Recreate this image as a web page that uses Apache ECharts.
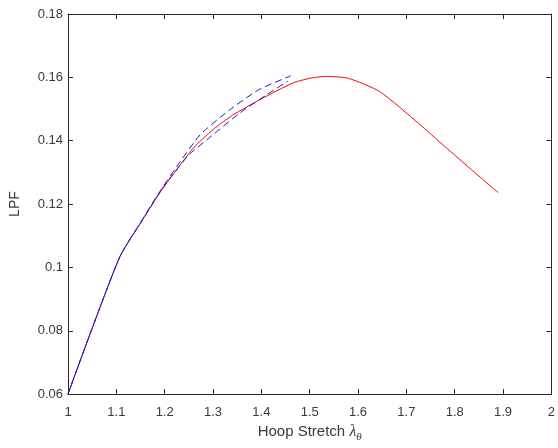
<!DOCTYPE html>
<html>
<head>
<meta charset="utf-8">
<script src="https://cdn.jsdelivr.net/npm/echarts@6/dist/echarts.min.js"></script>
<style>
html,body{margin:0;padding:0;background:#fff;}
#c{width:558px;height:448px;}
</style>
</head>
<body>
<div id="c"></div>
<script>
// Data
const xTicks = [1, 1.1, 1.2, 1.3, 1.4, 1.5, 1.6, 1.7, 1.8, 1.9, 2];
const yTicks = [0.06, 0.08, 0.1, 0.12, 0.14, 0.16, 0.18];

const redX = [1.0, 1.05, 1.108, 1.15, 1.19, 1.21, 1.26, 1.30, 1.34, 1.40, 1.465, 1.50, 1.533, 1.58, 1.645, 1.725, 1.78, 1.835, 1.89];
const redY = [0.060, 0.0808, 0.1036, 0.1140, 0.1236, 0.1278, 0.1378, 0.1435, 0.1480, 0.1532, 0.1582, 0.1597, 0.1603, 0.1597, 0.1555, 0.1455, 0.1381, 0.1308, 0.1236];

const blueAX = [1.0, 1.05, 1.108, 1.15, 1.19, 1.225, 1.273, 1.334, 1.396, 1.461];
const blueAY = [0.060, 0.0808, 0.1036, 0.1142, 0.1240, 0.1318, 0.1418, 0.1497, 0.1562, 0.1605];

const blueBX = [1.0, 1.05, 1.108, 1.15, 1.19, 1.21, 1.25, 1.293, 1.355, 1.41, 1.455];
const blueBY = [0.060, 0.0808, 0.1036, 0.1140, 0.1237, 0.1280, 0.1355, 0.1410, 0.1487, 0.1544, 0.1588];

const pairs = (xs, ys) => xs.map((x, i) => [x, ys[i]]);

const TXT = '#3a3a3a';
const AX = '#262626';
const FONT = '"Liberation Sans", Arial, sans-serif';
const fmt = v => String(+(+v).toFixed(2));

const chart = echarts.init(document.getElementById('c'), null, {renderer: 'canvas'});

const baseX = {
  type: 'value', min: xTicks[0], max: xTicks[xTicks.length - 1], interval: 0.1,
  axisLine: {show: true, onZero: false, lineStyle: {color: AX, width: 1}},
  axisTick: {show: true, inside: true, length: 5, lineStyle: {color: AX}},
  splitLine: {show: false}
};
const baseY = {
  type: 'value', min: yTicks[0], max: yTicks[yTicks.length - 1], interval: 0.02,
  axisLine: {show: true, onZero: false, lineStyle: {color: AX, width: 1}},
  axisTick: {show: true, inside: true, length: 5, lineStyle: {color: AX}},
  splitLine: {show: false}
};

chart.setOption({
  animation: false,
  backgroundColor: '#fff',
  grid: {left: 67.5, right: 5, top: 14, bottom: 53, containLabel: false},
  xAxis: [
    Object.assign({}, baseX, {
      position: 'bottom',
      name: 'Hoop Stretch {l|λ}{s|θ}',
      nameLocation: 'middle', nameGap: 26,
      nameTextStyle: {
        color: TXT, fontFamily: FONT, fontSize: 15,
        rich: {
          l: {fontFamily: '"Liberation Serif", "DejaVu Serif", serif', fontStyle: 'italic', fontSize: 16, color: TXT},
          s: {fontFamily: '"Liberation Serif", "DejaVu Serif", serif', fontStyle: 'italic', fontSize: 11, color: TXT, padding: [11, 0, 0, 0]}
        }
      },
      axisLabel: {show: true, margin: 12, color: TXT, fontFamily: FONT, fontSize: 13, formatter: fmt}
    }),
    Object.assign({}, baseX, {position: 'top', axisLabel: {show: false}})
  ],
  yAxis: [
    Object.assign({}, baseY, {
      position: 'left',
      name: 'LPF', nameLocation: 'middle', nameGap: 46,
      nameTextStyle: {color: TXT, fontFamily: FONT, fontSize: 14},
      axisLabel: {show: true, margin: 5, color: TXT, fontFamily: FONT, fontSize: 13, formatter: fmt}
    }),
    Object.assign({}, baseY, {position: 'right', axisLabel: {show: false}})
  ],
  series: [
    {
      type: 'line', xAxisIndex: 0, yAxisIndex: 0, showSymbol: false, symbol: 'none',
      data: pairs(redX, redY), smooth: 0.2,
      lineStyle: {color: '#ff0000', width: 1}, z: 2
    },
    {
      type: 'line', xAxisIndex: 0, yAxisIndex: 0, showSymbol: false, symbol: 'none',
      data: pairs(blueAX, blueAY), smooth: 0.2,
      lineStyle: {color: '#1a1acc', width: 1, type: [7, 4]}, z: 3
    },
    {
      type: 'line', xAxisIndex: 0, yAxisIndex: 0, showSymbol: false, symbol: 'none',
      data: pairs(blueBX, blueBY), smooth: 0.2,
      lineStyle: {color: '#1a1acc', width: 1, type: [7, 4], dashOffset: 4}, z: 3
    }
  ]
});
</script>
</body>
</html>
